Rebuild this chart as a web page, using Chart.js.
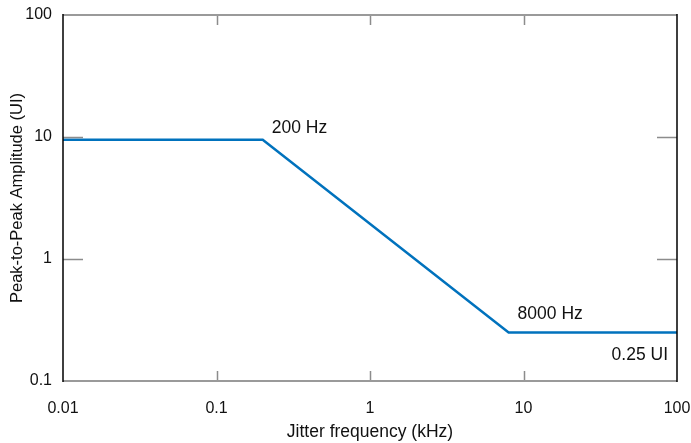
<!DOCTYPE html>
<html>
<head>
<meta charset="utf-8">
<script src="https://cdn.jsdelivr.net/npm/chart.js@4.4.1/dist/chart.umd.min.js"></script>
<style>
  html, body { margin: 0; padding: 0; background: #ffffff; }
  #wrap { width: 691px; height: 443px; position: relative; }
</style>
</head>
<body>
<div id="wrap"><canvas id="chart" width="691" height="443"></canvas></div>
<script>
// Jitter tolerance mask: breakpoints in kHz and peak-to-peak amplitude in UI
const freqKHz = [0.01, 0.2, 8, 100];
const amplitudeUI = [9.5, 9.5, 0.25, 0.25];

// Decade ticks for both log axes
const xTickValues = [0.01, 0.1, 1, 10, 100];
const yTickValues = [0.1, 1, 10, 100];

// Text notes tied to mask breakpoints
const noteX = [0.2, 8, 100];
const noteY = [9.5, 0.25, 0.25];
const noteText = ['200 Hz', '8000 Hz', '0.25 UI'];

const FONT = '"Liberation Sans", Arial, Helvetica, sans-serif';
const LINE_BLUE = '#0072bd';

const points = freqKHz.map((f, i) => ({ x: f, y: amplitudeUI[i] }));

function fmt(v) {
  return String(v);
}

// Frame, inward decade ticks and breakpoint notes
const framePlugin = {
  id: 'frame',
  afterDraw(chart) {
    const { ctx, chartArea: a, scales } = chart;
    const xs = scales.x, ys = scales.y;
    ctx.save();
    // inward ticks
    ctx.strokeStyle = '#8c8c8c';
    ctx.lineWidth = 1.5;
    xTickValues.slice(1, -1).forEach(v => {
      const px = Math.round(xs.getPixelForValue(v)) + 0.5;
      ctx.beginPath();
      ctx.moveTo(px, a.bottom); ctx.lineTo(px, a.bottom - 10);
      ctx.moveTo(px, a.top); ctx.lineTo(px, a.top + 10);
      ctx.stroke();
    });
    yTickValues.slice(1, -1).forEach(v => {
      const py = Math.round(ys.getPixelForValue(v)) + 0.5;
      ctx.beginPath();
      ctx.moveTo(a.left, py); ctx.lineTo(a.left + 20, py);
      ctx.moveTo(a.right, py); ctx.lineTo(a.right - 20, py);
      ctx.stroke();
    });
    // top and bottom edges
    ctx.strokeStyle = '#9a9a9a';
    ctx.lineWidth = 2;
    ctx.beginPath();
    ctx.moveTo(a.left, a.top); ctx.lineTo(a.right, a.top);
    ctx.moveTo(a.left, a.bottom); ctx.lineTo(a.right, a.bottom);
    ctx.stroke();
    // left and right edges
    ctx.strokeStyle = '#000000';
    ctx.lineWidth = 1.5;
    ctx.beginPath();
    ctx.moveTo(a.left, a.top - 1); ctx.lineTo(a.left, a.bottom + 1);
    ctx.moveTo(a.right, a.top - 1); ctx.lineTo(a.right, a.bottom + 1);
    ctx.stroke();

    // notes
    ctx.fillStyle = '#111111';
    ctx.font = '17.5px ' + FONT;
    ctx.textBaseline = 'middle';
    const offsets = [[9, -12, 'left'], [9, -18, 'left'], [-9, 23, 'right']];
    noteText.forEach((t, i) => {
      const px = xs.getPixelForValue(noteX[i]);
      const py = ys.getPixelForValue(noteY[i]);
      ctx.textAlign = offsets[i][2];
      ctx.fillText(t, px + offsets[i][0], py + offsets[i][1]);
    });
    ctx.restore();
  }
};

new Chart(document.getElementById('chart'), {
  type: 'scatter',
  data: {
    datasets: [{
      data: points,
      showLine: true,
      borderColor: LINE_BLUE,
      borderWidth: 2.5,
      pointRadius: 0,
      fill: false,
      tension: 0
    }]
  },
  options: {
    responsive: false,
    animation: false,
    layout: { padding: { left: 0, right: 14, top: 15, bottom: 0 } },
    plugins: {
      legend: { display: false },
      tooltip: { enabled: false }
    },
    scales: {
      x: {
        type: 'logarithmic',
        min: 0.01,
        max: 100,
        afterBuildTicks(scale) { scale.ticks = xTickValues.map(v => ({ value: v })); },
        afterFit(scale) {
          scale.height = 62;
          scale.paddingLeft = 0;
          scale.paddingRight = 0;
        },
        grid: { display: false, drawTicks: false },
        border: { display: false },
        ticks: {
          color: '#111111',
          font: { family: FONT, size: 16 },
          padding: 18,
          maxRotation: 0,
          autoSkip: false,
          callback: v => fmt(v)
        },
        title: {
          display: true,
          text: 'Jitter frequency (kHz)',
          color: '#111111',
          font: { family: FONT, size: 17.5 },
          padding: { top: 6, bottom: 0 }
        }
      },
      y: {
        type: 'logarithmic',
        min: 0.1,
        max: 100,
        afterBuildTicks(scale) { scale.ticks = yTickValues.map(v => ({ value: v })); },
        afterFit(scale) {
          scale.width = 63;
          scale.paddingTop = 0;
          scale.paddingBottom = 0;
        },
        grid: { display: false, drawTicks: false },
        border: { display: false },
        ticks: {
          color: '#111111',
          font: { family: FONT, size: 16 },
          padding: 11,
          autoSkip: false,
          callback: v => fmt(v)
        },
        title: {
          display: true,
          text: 'Peak-to-Peak Amplitude (UI)',
          color: '#111111',
          font: { family: FONT, size: 16.5 },
          padding: { top: 8, bottom: 0 }
        }
      }
    }
  },
  plugins: [framePlugin]
});
</script>
</body>
</html>
